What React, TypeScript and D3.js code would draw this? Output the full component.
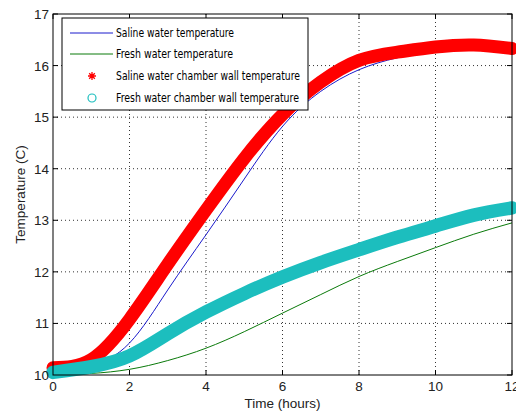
import React from "react";
import * as d3 from "d3";

// Time in hours, sampled hourly
const hours = [0, 1, 2, 3, 4, 5, 6, 7, 8, 9, 10, 11, 12];

// Temperatures in degrees C
const salineWater = [10.08, 10.18, 10.62, 11.65, 12.72, 13.8, 14.82, 15.5, 15.92, 16.15, 16.28, 16.33, 16.3];
const freshWater = [10.0, 10.03, 10.11, 10.28, 10.52, 10.84, 11.2, 11.56, 11.91, 12.2, 12.47, 12.73, 12.95];
const salineWall = [10.14, 10.3, 11.08, 12.15, 13.2, 14.2, 15.05, 15.68, 16.1, 16.26, 16.36, 16.4, 16.33];
const freshWall = [10.05, 10.16, 10.37, 10.8, 11.22, 11.58, 11.9, 12.18, 12.43, 12.67, 12.89, 13.1, 13.24];

const xTicks = [0, 2, 4, 6, 8, 10, 12];
const yTicks = [10, 11, 12, 13, 14, 15, 16, 17];

const legendLabels = [
  "Saline water temperature",
  "Fresh water temperature",
  "Saline water chamber wall temperature",
  "Fresh water chamber wall temperature",
];

const W = 516;
const H = 414;
const plot = { left: 53, right: 512, top: 14, bottom: 375 };

export default function App() {
  const x = d3.scaleLinear().domain([0, 12]).range([plot.left, plot.right]);
  const y = d3.scaleLinear().domain([10, 17]).range([plot.bottom, plot.top]);

  const line = d3
    .line<number>()
    .x((_, i) => x(hours[i]))
    .y((d) => y(d))
    .curve(d3.curveNatural);

  const tickFont = "Arial, 'Liberation Sans', sans-serif";
  const legendFont = "'Liberation Sans Narrow', 'DejaVu Sans Condensed', Arial, sans-serif";

  const legend = { x: 62, y: 18, w: 246, h: 92 };
  const rowY = [33, 54, 76, 98];
  const legendTextWidths = [118, 117, 184, 183];

  const star = (cx: number, cy: number, r: number) => {
    const parts: string[] = [];
    for (let k = 0; k < 4; k++) {
      const a = (Math.PI / 4) * k;
      const dx = Math.cos(a) * r;
      const dy = Math.sin(a) * r;
      parts.push(`M${cx - dx},${cy - dy}L${cx + dx},${cy + dy}`);
    }
    return parts.join("");
  };

  return (
    <svg
      width={W}
      height={H}
      style={{ position: "absolute", left: 0, top: 0, background: "#fff" }}
    >
      <rect x={0} y={0} width={W} height={H} fill="#fff" />

      {/* grid */}
      <g stroke="#333" strokeWidth={1} strokeDasharray="1,3">
        {xTicks.slice(1, -1).map((t) => (
          <line key={"gx" + t} x1={x(t)} x2={x(t)} y1={plot.top} y2={plot.bottom} />
        ))}
        {yTicks.slice(1, -1).map((t) => (
          <line key={"gy" + t} x1={plot.left} x2={plot.right} y1={y(t)} y2={y(t)} />
        ))}
      </g>

      {/* ticks on all four sides, pointing inward */}
      <g stroke="#000" strokeWidth={1}>
        {xTicks.map((t) => (
          <g key={"tx" + t}>
            <line x1={x(t)} x2={x(t)} y1={plot.bottom} y2={plot.bottom - 5} />
            <line x1={x(t)} x2={x(t)} y1={plot.top} y2={plot.top + 5} />
          </g>
        ))}
        {yTicks.map((t) => (
          <g key={"ty" + t}>
            <line x1={plot.left} x2={plot.left + 5} y1={y(t)} y2={y(t)} />
            <line x1={plot.right} x2={plot.right - 5} y1={y(t)} y2={y(t)} />
          </g>
        ))}
      </g>

      {/* series */}
      <path d={line(salineWater) || ""} fill="none" stroke="#1a1acc" strokeWidth={1} />
      <path d={line(freshWater) || ""} fill="none" stroke="#0a7a0a" strokeWidth={1} />
      <path
        d={line(salineWall) || ""}
        fill="none"
        stroke="#ff0000"
        strokeWidth={13}
        strokeLinecap="round"
        strokeLinejoin="round"
      />
      <path
        d={line(freshWall) || ""}
        fill="none"
        stroke="#1cbebe"
        strokeWidth={13.5}
        strokeLinecap="round"
        strokeLinejoin="round"
      />

      {/* axes box */}
      <rect
        x={plot.left}
        y={plot.top}
        width={plot.right - plot.left}
        height={plot.bottom - plot.top}
        fill="none"
        stroke="#000"
        strokeWidth={1}
      />

      {/* tick labels */}
      <g fontFamily={tickFont} fontSize={13.5} fill="#222">
        {xTicks.map((t) => (
          <text key={"lx" + t} x={x(t)} y={391} textAnchor="middle">
            {t}
          </text>
        ))}
        {yTicks.map((t) => (
          <text key={"ly" + t} x={49} y={y(t) + 5} textAnchor="end">
            {t}
          </text>
        ))}
      </g>

      {/* axis titles */}
      <text
        x={(plot.left + plot.right) / 2}
        y={408}
        textAnchor="middle"
        fontFamily={tickFont}
        fontSize={13.5}
        fill="#222"
      >
        Time (hours)
      </text>
      <text
        transform={`translate(25,${(plot.top + plot.bottom) / 2}) rotate(-90)`}
        textAnchor="middle"
        fontFamily={tickFont}
        fontSize={13.5}
        fill="#222"
      >
        Temperature (C)
      </text>

      {/* legend */}
      <rect
        x={legend.x}
        y={legend.y}
        width={legend.w}
        height={legend.h}
        fill="#fff"
        stroke="#000"
        strokeWidth={1}
      />
      <line x1={70} x2={113} y1={rowY[0]} y2={rowY[0]} stroke="#1a1acc" strokeWidth={1} />
      <line x1={70} x2={113} y1={rowY[1]} y2={rowY[1]} stroke="#0a7a0a" strokeWidth={1} />
      <path d={star(92, rowY[2], 4)} stroke="#ff0000" strokeWidth={1.3} fill="none" />
      <circle cx={92} cy={rowY[3]} r={4} stroke="#1cbebe" strokeWidth={1.2} fill="none" />
      <g fontFamily={legendFont} fontSize={12} fill="#000">
        {legendLabels.map((s, i) => (
          <text
            key={s}
            x={116}
            y={rowY[i] + 4}
            textLength={legendTextWidths[i]}
            lengthAdjust="spacingAndGlyphs"
          >
            {s}
          </text>
        ))}
      </g>
    </svg>
  );
}
